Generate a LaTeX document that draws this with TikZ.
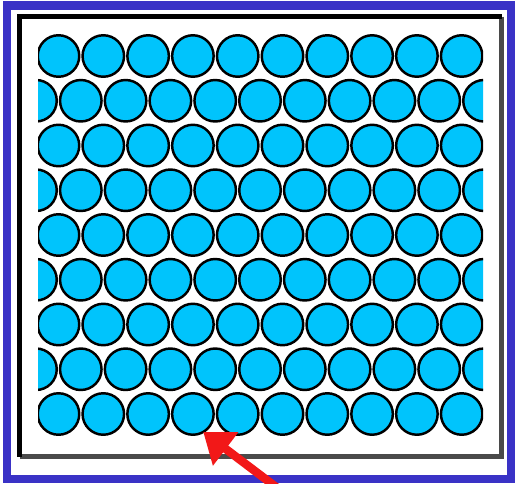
\documentclass[tikz,border=0pt]{standalone}
\usepackage{xcolor}
\usetikzlibrary{arrows.meta}
\definecolor{frameblue}{HTML}{3A32C6}
\definecolor{ballcyan}{HTML}{00C4FC}
\definecolor{frameshade}{HTML}{4A4A4A}
\definecolor{arrowred}{HTML}{F21818}
\tikzset{
    every picture/.style={line join=miter},
    ball/.style={circle,draw=black,fill=ballcyan,line width=1.4pt,
      minimum size=0.83cm,inner sep=0pt,outer sep=0pt},
    pointer/.style={-{Triangle[length=16pt,width=23pt]},draw=arrowred,
      line width=4.8pt}
}
\begin{document}
\begin{tikzpicture}[x=0.02cm,y=-0.02cm]
  \useasboundingbox (0,0) rectangle (518,484);
  \fill[white] (0,0) rectangle (518,484);
  \draw[frameblue,line width=4.6pt] (7,5.5) rectangle (511,479);
  % inner frame: dark on top and left, grey on the other two sides
  \draw[frameshade,line width=2.8pt] (501.5,16.5) -- (501.5,456.5) -- (19.5,456.5);
  \draw[black,line width=2.8pt] (501.5,16.5) -- (19.5,16.5) -- (19.5,456.5);

  \begin{scope}
    \clip (38,0) rectangle (483,484);
    \foreach \r in {1,3,5,7,9} {
      \foreach \k in {1,...,10} {
        \node[ball] (c-\r-\k) at ({58.5+44.8*(\k-1)},{56+44.75*(\r-1)}) {};
      }
    }
    \foreach \r in {2,4,6,8} {
      \foreach \k in {0,...,10} {
        \node[ball] (c-\r-\k) at ({36+44.8*\k},{56+44.75*(\r-1)}) {};
      }
    }
  \end{scope}

  \coordinate (tail) at (280,490);
  \draw[pointer] (tail) -- (c-9-4.-60);
\end{tikzpicture}
\end{document}
